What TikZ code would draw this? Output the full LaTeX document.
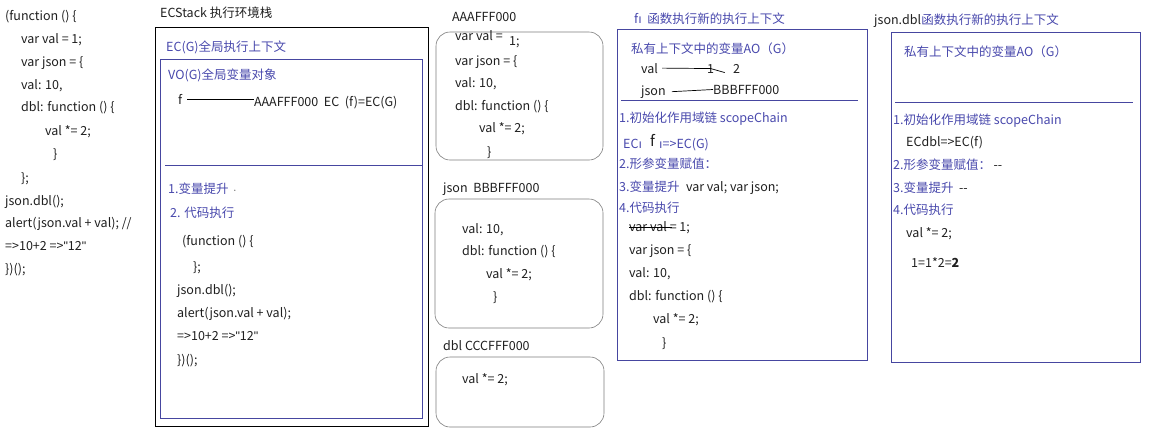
\documentclass[tikz,border=0pt]{standalone}
\usepackage{fontspec}
\setmainfont{Noto Sans CJK SC}
\newfontfamily\latinfont{Liberation Sans}
\usepackage{xcolor}
\definecolor{ctxblue}{RGB}{72,72,172}
\definecolor{boxblue}{RGB}{70,70,160}
\definecolor{heapgray}{RGB}{125,125,125}
\newcommand{\dotlessi}{{\latinfont ı}}
\newcommand{\straightq}[1]{{\latinfont "}#1{\latinfont "}}
\tikzset{
  codeline/.style={anchor=base west,inner sep=0pt,font=\fontsize{12.5}{15}\selectfont,text=black!88},
  bluetxt/.style={codeline,text=ctxblue},
  ctxbox/.style={draw=boxblue,line width=0.9pt},
  heapbox/.style={draw=heapgray,rounded corners=14pt,line width=0.6pt},
  link/.style={draw=black,line width=0.7pt}
}

\begin{document}
\begin{tikzpicture}[x=1pt,y=-1pt]
\useasboundingbox (0,0) rectangle (1150,432);

% the source on the left
\foreach \i/\x/\y/\t in {1/5/20/{(function () \{},2/21/43/{var val = 1;},3/21/66/{var json = \{},4/21/89/{val: 10,},5/21/111/{dbl: function () \{},6/45/135/{val *= 2;},7/53/158/{\}},8/21/182/{\};},9/5/205/{json.dbl();},10/5/227/{alert(json.val + val); //},11/5/250/{=>10+2 =>\straightq{12}},12/5/273/{\})();}}
  \node[codeline] (src\i) at (\x,\y) {\t};

% ECStack
\node[codeline] (stk) at (160,17) {ECStack 执行环境栈};
\draw[black,line width=0.9pt] (155,27) rectangle (428,426);
\node[bluetxt] (ecg) at (166,51) {EC(G)全局执行上下文};
\draw[ctxbox] (160,59) rectangle (422,418);
\draw[ctxbox] (165,165) -- (422,165);
\node[bluetxt] (vog) at (168,79) {VO(G)全局变量对象};
\node[codeline] (fvar) at (178,104) {f};
\node[codeline] (faddr) at (254,106) {AAAFFF000\ \ EC\ \ (f)=EC(G)};
\draw[link] ([xshift=5pt]fvar.east) -- (faddr.west |- fvar.east);
\node[bluetxt] (hoist) at (168,193) {1.变量提升\ {\color{gray}\fontsize{7}{7}\selectfont ·}};
\node[bluetxt] (exec) at (170,217) {2. 代码执行};
\foreach \i/\x/\y/\t in {1/182/245/{(function () \{},2/193/271/{\};},3/177/294/{json.dbl();},4/177/317/{alert(json.val + val);},5/177/340/{=>10+2 =>\straightq{12}},6/177/364/{\})();}}
  \node[codeline] (run\i) at (\x,\y) {\t};

% heap
\node[codeline] (aaa) at (452,21) {AAAFFF000};
\draw[heapbox] (436,32) rectangle (603,160);
\node[codeline] (a1) at (455,40) {var val =};
\node[codeline] (a1v) at (509,45) {1;};
\foreach \i/\x/\y/\t in {2/455/65/{var json = \{},3/455/87/{val: 10,},4/455/110/{dbl: function () \{},5/479/132/{val *= 2;},6/487/156/{\}}}
  \node[codeline] (a\i) at (\x,\y) {\t};

\node[codeline] (bbb) at (443,192) {json\ \ BBBFFF000};
\draw[heapbox] (435,199) rectangle (603,328);
\foreach \i/\x/\y/\t in {1/462/233/{val: 10,},2/462/255/{dbl: function () \{},3/486/278/{val *= 2;},4/493/301/{\}}}
  \node[codeline] (b\i) at (\x,\y) {\t};

\node[codeline] (ccc) at (443,350) {dbl CCCFFF000};
\draw[heapbox] (436,357) rectangle (604,427);
\node[codeline] (c1) at (462,383) {val *= 2;};

% context of f
\node[bluetxt] (fttl) at (634,23) {f\dotlessi\ \ 函数执行新的执行上下文};
\draw[ctxbox] (617,29) rectangle (867,360);
\node[bluetxt] (fao) at (631,53) {私有上下文中的变量AO（G）};
\node[codeline] (fval) at (641,73) {val};
\node[codeline] (fone) at (707,73) {1};
\node[codeline] (ftwo) at (733,73) {2};
\draw[link] ([xshift=4pt]fval.east) -- (fone.center) -- ++(14,4);
\node[codeline] (fjson) at (641,95) {json};
\node[codeline] (fbbb) at (713,94) {BBBFFF000};
\draw[link] ([xshift=6pt]fjson.east) -- (fbbb.west);
\draw[ctxbox] (621,100) -- (858,100);
\node[bluetxt] (fsc) at (619,122) {1.初始化作用域链 scopeChain};
\node[bluetxt] (fec) at (623,148) {EC\dotlessi};
\node[codeline,font=\fontsize{15}{15}\selectfont] (ff) at (650,146) {f};
\node[bluetxt] (fecg) at (659,148) {\dotlessi=>EC(G)};
\node[bluetxt] (farg) at (619,168) {2.形参变量赋值：};
\node[bluetxt] (fhst) at (619,191) {3.变量提升};
\node[codeline] (fhv) at ([xshift=6pt]fhst.base east) {var val; var json;};
\node[bluetxt] (fexe) at (619,212) {4.代码执行};
\foreach \i/\x/\y/\t in {1/629/231/{var val = 1;},2/629/254/{var json = \{},3/629/277/{val: 10,},4/629/300/{dbl: function () \{},5/653/323/{val *= 2;},6/662/347/{\}}}
  \node[codeline] (fs\i) at (\x,\y) {\t};
\draw[link] ([yshift=4pt]fs1.base west) -- ++(43,0);

% context of json.dbl
\node[codeline] (jttl) at (874,24) {json.dbl};
\node[bluetxt] (jttl2) at (jttl.base east) {函数执行新的执行上下文};
\draw[ctxbox] (891,32) rectangle (1140,362);
\node[bluetxt] (jao) at (904,56) {私有上下文中的变量AO（G）};
\draw[ctxbox] (895,102) -- (1133,102);
\node[bluetxt] (jsc) at (893,124) {1.初始化作用域链 scopeChain};
\node[codeline] (jec) at (906,146) {ECdbl=>EC(f)};
\node[bluetxt] (jarg) at (893,169) {2.形参变量赋值：};
\node[codeline] (jarg2) at ([xshift=2pt]jarg.base east) {-{}-};
\node[bluetxt] (jhst) at (893,192) {3.变量提升};
\node[codeline] (jhst2) at ([xshift=5pt]jhst.base east) {-{}-};
\node[bluetxt] (jexe) at (893,214) {4.代码执行};
\node[codeline] (jrun) at (906,237) {val *= 2;};
\node[codeline] (jres) at (911,267) {1=1*2=\textbf{2}};
\end{tikzpicture}
\end{document}
